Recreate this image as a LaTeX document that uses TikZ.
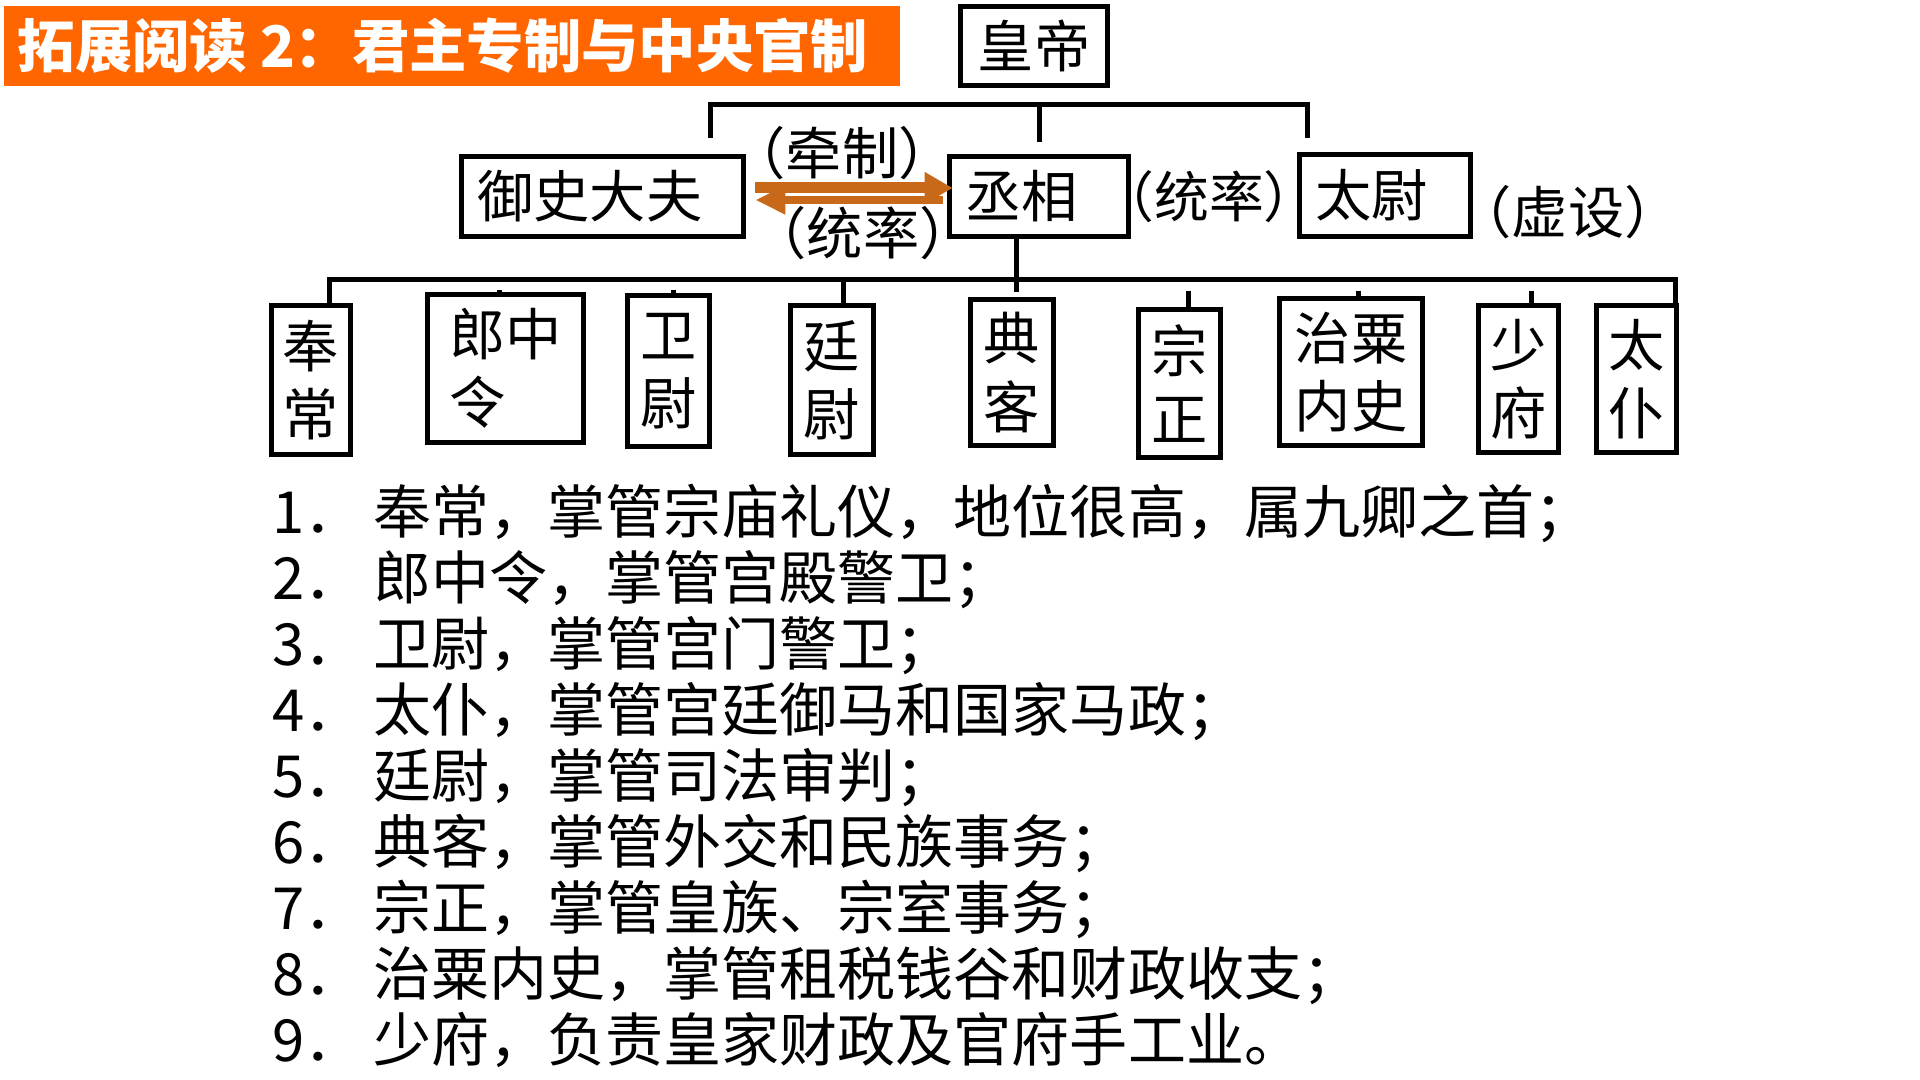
\documentclass[tikz,border=0pt]{standalone}
\usepackage{fontspec}
\setmainfont{Noto Sans CJK SC}
\usetikzlibrary{arrows.meta}
\definecolor{titleorange}{RGB}{255,102,0}
\definecolor{arrowbrown}{RGB}{200,105,25}
\tikzset{
  base/.style={font=\fontsize{16}{19.4}\selectfont, inner sep=0pt},
  hbox/.style={base, draw, line width=0.055cm, align=left, inner xsep=0.16cm},
  vbox/.style={base, draw, line width=0.055cm, align=center},
  lbox/.style={base, draw, line width=0.055cm, align=left},
  conn/.style={line width=0.05cm},
  note/.style={base},
  num/.style={base, font=\fontsize{16.5}{19.4}\selectfont, anchor=base west},
  item/.style={base, font=\fontsize{16.5}{19.4}\selectfont, anchor=base west},
}
\begin{document}
\begin{tikzpicture}[x=0.01cm,y=-0.01cm]
\useasboundingbox[fill=white] (0,0) rectangle (1920,1080);

% title
\node[fill=titleorange, minimum width=8.96cm, minimum height=0.80cm, inner sep=0pt] (titlebar) at (452,46) {};
\node[base, font=\fontsize{16.3}{19}\selectfont\bfseries, text=white, anchor=west] (title) at (17,46) {拓展阅读 2：君主专制与中央官制};

% top boxes
\node[vbox, minimum width=1.47cm, minimum height=0.79cm] (huangdi) at (1034,46) {皇帝};
\node[hbox, text width=2.50cm, minimum height=0.80cm] (yushi) at (602.5,196.5) {御史大夫};
\node[hbox, text width=1.47cm, minimum height=0.80cm] (chengxiang) at (1039,196.5) {丞相};
\node[hbox, text width=1.39cm, minimum height=0.82cm] (taiwei) at (1385,195.5) {太尉};

% notes
\node[note] (qianzhi) at (842,153) {（牵制）};
\node[note] (tonglvA) at (863,233) {（统率）};
\node[note, font=\fontsize{15.6}{19}\selectfont] (tonglvB) at (1209,197) {（统率）};
\node[note] (xushe) at (1568,212) {（虚设）};

% arrows between yushi and chengxiang
\draw[arrowbrown, line width=0.08cm, -{Triangle[length=0.30cm,width=0.27cm]}, shorten <=0.04cm, shorten >=0.09cm]
  ([yshift=-0.035cm]chengxiang.west) -- ([yshift=-0.035cm]yushi.east);
\draw[arrowbrown, line width=0.11cm, -{Triangle[length=0.28cm,width=0.30cm]}, shorten <=0.09cm, shorten >=-0.06cm]
  ([yshift=0.085cm]yushi.east) -- ([yshift=0.085cm]chengxiang.west);

% top connector
\coordinate (tl) at (710,105);
\coordinate (tr) at (1307,105);
\coordinate (tm) at (1039,105);
\draw[conn, shorten <=0.16cm, shorten >=0.14cm] (710,0 |- yushi.north) -- (tl) -- (tr) -- (1307,0 |- taiwei.north);
\draw[conn, shorten >=0.12cm] (tm) -- (1039,0 |- chengxiang.north);

% lower boxes
\node[vbox, minimum width=0.79cm, minimum height=1.49cm] (fengchang) at (311,380) {奉\\常};
\node[lbox, minimum width=1.56cm, minimum height=1.48cm] (langzhong) at (505.5,368.5) {郎中\\令};
\node[vbox, minimum width=0.82cm, minimum height=1.51cm] (weiwei) at (668.5,371) {卫\\尉};
\node[vbox, minimum width=0.83cm, minimum height=1.49cm] (tingwei) at (832,380) {廷\\尉};
\node[vbox, minimum width=0.83cm, minimum height=1.46cm] (dianke) at (1012,372.5) {典\\客};
\node[vbox, minimum width=0.82cm, minimum height=1.48cm] (zongzheng) at (1179.5,383.5) {宗\\正};
\node[lbox, minimum width=1.43cm, minimum height=1.47cm] (zhisu) at (1351,372) {治粟\\内史};
\node[vbox, minimum width=0.80cm, minimum height=1.47cm] (shaofu) at (1518.5,379) {少\\府};
\node[vbox, minimum width=0.80cm, minimum height=1.47cm] (taipu) at (1636.5,379) {太\\仆};

% lower connector
\coordinate (bl) at (329,280);
\coordinate (br) at (1675,280);
\draw[conn] (329,0 |- fengchang.north) -- (bl) -- (br) -- (1675,0 |- taipu.north);
\draw[conn, shorten >=0.05cm] (1016,0 |- chengxiang.south) -- (1016,0 |- dianke.north);
\draw[conn, shorten <=0.10cm] (499,280) -- (499,0 |- langzhong.north);
\draw[conn, shorten <=0.10cm] (673,280) -- (673,0 |- weiwei.north);
\draw[conn] (843,280) -- (843,0 |- tingwei.north);
\draw[conn, shorten <=0.11cm] (1188,280) -- (1188,0 |- zongzheng.north);
\draw[conn, shorten <=0.11cm] (1358,280) -- (1358,0 |- zhisu.north);
\draw[conn, shorten <=0.11cm] (1531,280) -- (1531,0 |- shaofu.north);

% list
\node[num] (n1) at (272,534) {1．};
\node[item] (t1) at (373,534) {奉常，掌管宗庙礼仪，地位很高，属九卿之首；};
\node[num] (n2) at (272,600) {2．};
\node[item] (t2) at (373,600) {郎中令，掌管宫殿警卫；};
\node[num] (n3) at (272,666) {3．};
\node[item] (t3) at (373,666) {卫尉，掌管宫门警卫；};
\node[num] (n4) at (272,732) {4．};
\node[item] (t4) at (373,732) {太仆，掌管宫廷御马和国家马政；};
\node[num] (n5) at (272,798) {5．};
\node[item] (t5) at (373,798) {廷尉，掌管司法审判；};
\node[num] (n6) at (272,864) {6．};
\node[item] (t6) at (373,864) {典客，掌管外交和民族事务；};
\node[num] (n7) at (272,930) {7．};
\node[item] (t7) at (373,930) {宗正，掌管皇族、宗室事务；};
\node[num] (n8) at (272,996) {8．};
\node[item] (t8) at (373,996) {治粟内史，掌管租税钱谷和财政收支；};
\node[num] (n9) at (272,1062) {9．};
\node[item] (t9) at (373,1062) {少府，负责皇家财政及官府手工业。};
\end{tikzpicture}
\end{document}
